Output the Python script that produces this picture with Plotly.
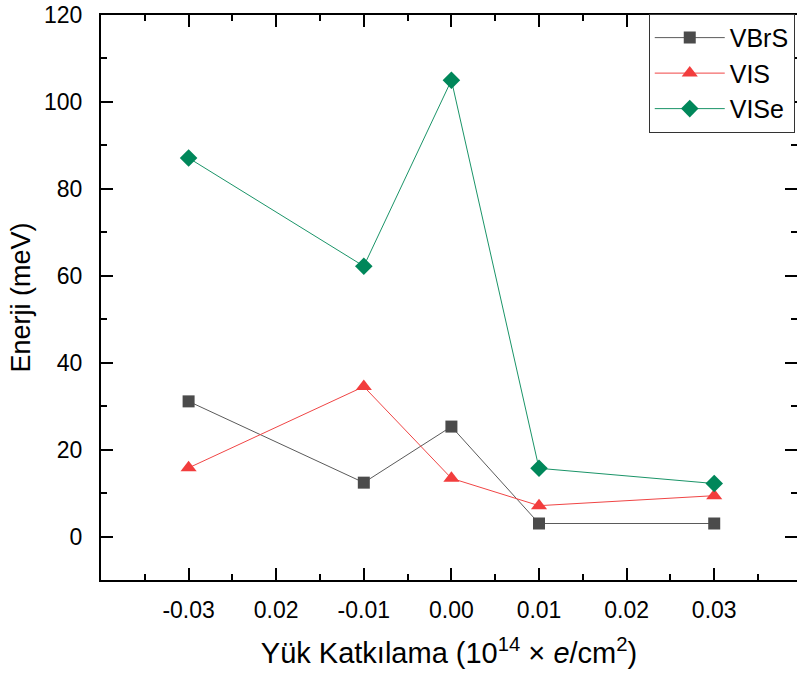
import plotly.graph_objects as go

# Charge doping levels (tick labels as printed on the axis) and data positions
tick_labels = ["-0.03", "0.02", "-0.01", "0.00", "0.01", "0.02", "0.03"]
x_index = [0, 2, 3, 4, 6]

# Energies (meV)
vbrs = [31.1, 12.4, 25.3, 3.0, 3.0]
vis = [15.8, 34.5, 13.4, 7.1, 9.4]
vise = [87.1, 62.2, 105.0, 15.7, 12.2]

FONT = "Liberation Sans, Arial, sans-serif"

series = [
    ("VBrS", vbrs, "#4b4b4b", "#5a5a5a", "square", 12),
    ("VIS", vis, "#f23d3d", "#f04545", "triangle-up", 14),
    ("VISe", vise, "#00875a", "#1a9468", "diamond", 13.5),
]

fig = go.Figure()
for name, vals, mcol, lcol, sym, size in series:
    fig.add_trace(go.Scatter(
        x=x_index, y=vals, name=name, mode="lines+markers",
        line=dict(color=lcol, width=1),
        marker=dict(symbol=sym, size=size, color=mcol, line=dict(width=0)),
    ))

# empty trace so the right-hand tick axis is drawn
fig.add_trace(go.Scatter(x=[None], y=[None], yaxis="y2", showlegend=False,
                         hoverinfo="skip"))

tick_style = dict(ticks="inside", ticklen=12, tickwidth=2, tickcolor="black")
minor_style = dict(ticks="inside", ticklen=6, tickwidth=2, tickcolor="black")

fig.update_layout(
    width=797, height=682,
    margin=dict(l=101, r=0, t=15, b=102),
    paper_bgcolor="white", plot_bgcolor="white",
    font=dict(family=FONT, color="black"),
    xaxis=dict(
        range=[-1, 6.945], tickmode="array", tickvals=list(range(len(tick_labels))),
        ticktext=tick_labels, showline=True, linewidth=2, linecolor="black",
        mirror="ticks", showgrid=False, zeroline=False,
        tickfont=dict(size=23), ticklabelstandoff=8,
        minor=dict(tickvals=[i + 0.5 for i in range(-1, 7)], **minor_style),
        title=dict(text="Yük Katkılama (10<sup>14</sup> × <i>e</i>/cm<sup>2</sup>)",
                   font=dict(size=29), standoff=21),
        **tick_style,
    ),
    yaxis=dict(
        range=[-10, 120], tick0=0, dtick=20, showline=True, linewidth=2,
        linecolor="black", mirror=False, showgrid=False, zeroline=False,
        tickfont=dict(size=23), ticklabelstandoff=12,
        minor=dict(dtick=10, tick0=0, **minor_style),
        title=dict(text="Enerji (meV)", font=dict(size=27), standoff=6),
        **tick_style,
    ),
    yaxis2=dict(
        range=[-10, 120], tick0=0, dtick=20, overlaying="y", side="right",
        showline=False, showgrid=False, zeroline=False, showticklabels=False,
        minor=dict(dtick=10, tick0=0, **minor_style),
        **tick_style,
    ),
    legend=dict(
        x=0.787, y=1.002, xanchor="left", yanchor="top",
        bgcolor="white", bordercolor="#333333", borderwidth=1,
        font=dict(size=25), itemwidth=70, tracegroupgap=0,
    ),
    showlegend=True,
)

fig.write_html("out.html")
